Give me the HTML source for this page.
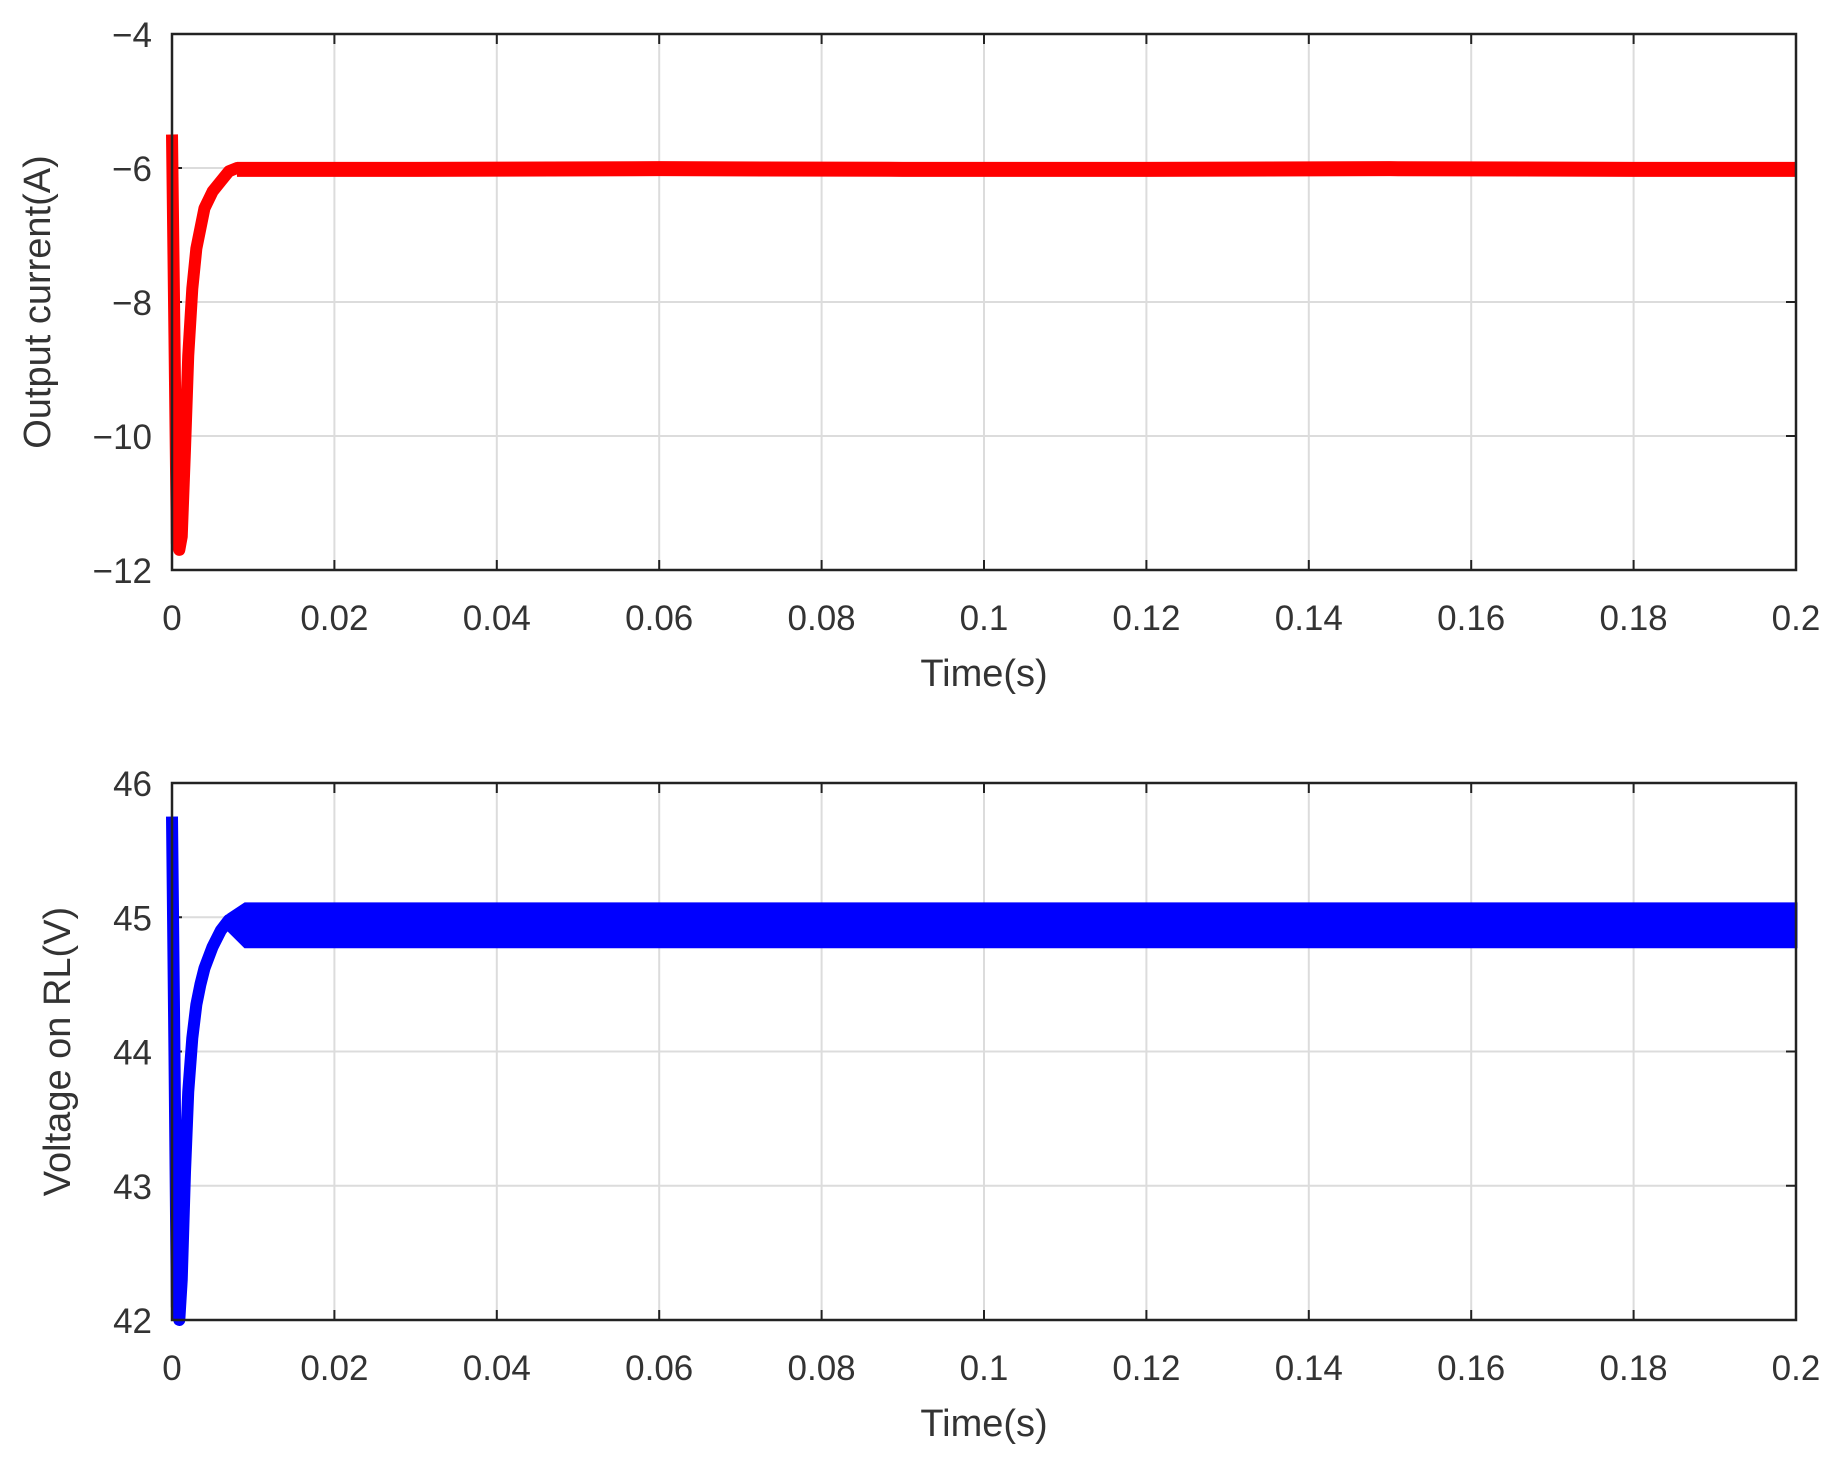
<!DOCTYPE html>
<html><head><meta charset="utf-8"><style>
html,body{margin:0;padding:0;background:#fff;}
svg{display:block;font-family:"Liberation Sans",sans-serif;}
</style></head><body>
<svg id="fig" width="1840" height="1466" viewBox="0 0 1840 1466"></svg>
<script>
const xTicks=[0,0.02,0.04,0.06,0.08,0.1,0.12,0.14,0.16,0.18,0.2];
const xTickLabels=["0","0.02","0.04","0.06","0.08","0.1","0.12","0.14","0.16","0.18","0.2"];
const iTicks=[-12,-10,-8,-6,-4];
const iTickLabels=["\u221212","\u221210","\u22128","\u22126","\u22124"];
const vTicks=[42,43,44,45,46];
const vTickLabels=["42","43","44","45","46"];
// current transient
const iTime=[0,0.0003,0.0006,0.0009,0.0012,0.0016,0.002,0.0025,0.003,0.0035,0.004,0.005,0.006,0.007,0.008,0.01];
const iVal=[-5.5,-8.5,-11.6,-11.7,-11.5,-10.2,-8.8,-7.8,-7.2,-6.9,-6.6,-6.35,-6.2,-6.05,-6.0,-6.0];
const iSteadyTime=[0.008,0.03,0.06,0.09,0.12,0.15,0.18,0.2];
const iSteadyVal=[-6.02,-6.02,-6.01,-6.02,-6.02,-6.01,-6.02,-6.02];
// voltage transient
const vTime=[0,0.0003,0.0006,0.0009,0.0012,0.0016,0.002,0.0025,0.003,0.0035,0.004,0.005,0.006,0.007,0.008];
const vVal=[45.75,44.0,42.1,42.0,42.3,43.1,43.7,44.1,44.35,44.5,44.62,44.78,44.9,44.98,45.0];
const vBandTime=[0.007,0.009,0.05,0.1,0.15,0.2];
const vBandTop=[45.02,45.1,45.1,45.1,45.1,45.1];
const vBandBottom=[44.9,44.78,44.78,44.78,44.78,44.78];

const NS="http://www.w3.org/2000/svg";
const svg=document.getElementById('fig');
function mk(tag,attrs,parent){const e=document.createElementNS(NS,tag);for(const k in attrs)e.setAttribute(k,attrs[k]);(parent||svg).appendChild(e);return e;}

function panel(top,bottom,yMin,yMax,yTicks,yLabels,ylabel,ylabelX,name){
  const L=172,R=1796;
  const g=mk('g',{});
  
  
  const sx=t=>L+(t-0)/0.2*(R-L);
  const sy=v=>bottom-(v-yMin)/(yMax-yMin)*(bottom-top);
  xTicks.forEach((t,i)=>{
    const l=mk('line',{x1:sx(t),x2:sx(t),y1:top,y2:bottom,stroke:'#dcdcdc','stroke-width':2},g);
    
    
    mk('line',{x1:sx(t),x2:sx(t),y1:bottom,y2:bottom-10,stroke:'#222','stroke-width':2},g);
    mk('line',{x1:sx(t),x2:sx(t),y1:top,y2:top+10,stroke:'#222','stroke-width':2},g);
    const tx=mk('text',{x:sx(t),y:bottom+60,'text-anchor':'middle','font-size':35,fill:'#333'},g);
    tx.textContent=xTickLabels[i];
    
    
  });
  yTicks.forEach((v,i)=>{
    const l=mk('line',{x1:L,x2:R,y1:sy(v),y2:sy(v),stroke:'#dcdcdc','stroke-width':2},g);
    
    
    mk('line',{x1:L,x2:L+10,y1:sy(v),y2:sy(v),stroke:'#222','stroke-width':2},g);
    mk('line',{x1:R,x2:R-10,y1:sy(v),y2:sy(v),stroke:'#222','stroke-width':2},g);
    const tx=mk('text',{x:152,y:sy(v)+13,'text-anchor':'end','font-size':35,fill:'#333'},g);
    tx.textContent=yLabels[i];
    
    
  });
  const xt=mk('text',{x:(L+R)/2,y:bottom+116,'text-anchor':'middle','font-size':38,fill:'#333'},g);
  xt.textContent='Time(s)';
  
  
  const cy=(top+bottom)/2;
  const yt=mk('text',{x:ylabelX,y:cy,'text-anchor':'middle','font-size':38,fill:'#333',transform:`rotate(-90 ${ylabelX} ${cy})`},g);
  yt.textContent=ylabel;
  
  
  return {g,sx,sy,L,R,top,bottom};
}

const p1=panel(34,570,-12,-4,iTicks,iTickLabels,'Output current(A)',50,'current-panel');
let d=iTime.map((t,i)=>(i?'L':'M')+p1.sx(t)+' '+p1.sy(iVal[i])).join(' ');
let s1=mk('path',{d:d,fill:'none',stroke:'#ff0000','stroke-width':12,'stroke-linejoin':'round'},p1.g);


d=iSteadyTime.map((t,i)=>(i?'L':'M')+p1.sx(t)+' '+p1.sy(iSteadyVal[i])).join(' ');
let s2=mk('path',{d:d,fill:'none',stroke:'#ff0000','stroke-width':15},p1.g);


mk('rect',{x:p1.L,y:34,width:p1.R-p1.L,height:570-34,fill:'none',stroke:'#222','stroke-width':2.5},p1.g);

const p2=panel(783,1320,42,46,vTicks,vTickLabels,'Voltage on RL(V)',70,'voltage-panel');
d=vTime.map((t,i)=>(i?'L':'M')+p2.sx(t)+' '+p2.sy(vVal[i])).join(' ');
let s3=mk('path',{d:d,fill:'none',stroke:'#0000ff','stroke-width':12,'stroke-linejoin':'round'},p2.g);


let band=vBandTime.map((t,i)=>(i?'L':'M')+p2.sx(t)+' '+p2.sy(vBandTop[i])).join(' ');
for(let i=vBandTime.length-1;i>=0;i--) band+=' L'+p2.sx(vBandTime[i])+' '+p2.sy(vBandBottom[i]);
band+=' Z';
let s4=mk('path',{d:band,fill:'#0000ff',stroke:'#0000ff','stroke-width':3},p2.g);


mk('rect',{x:p2.L,y:783,width:p2.R-p2.L,height:1320-783,fill:'none',stroke:'#222','stroke-width':2.5},p2.g);
</script>
</body></html>
